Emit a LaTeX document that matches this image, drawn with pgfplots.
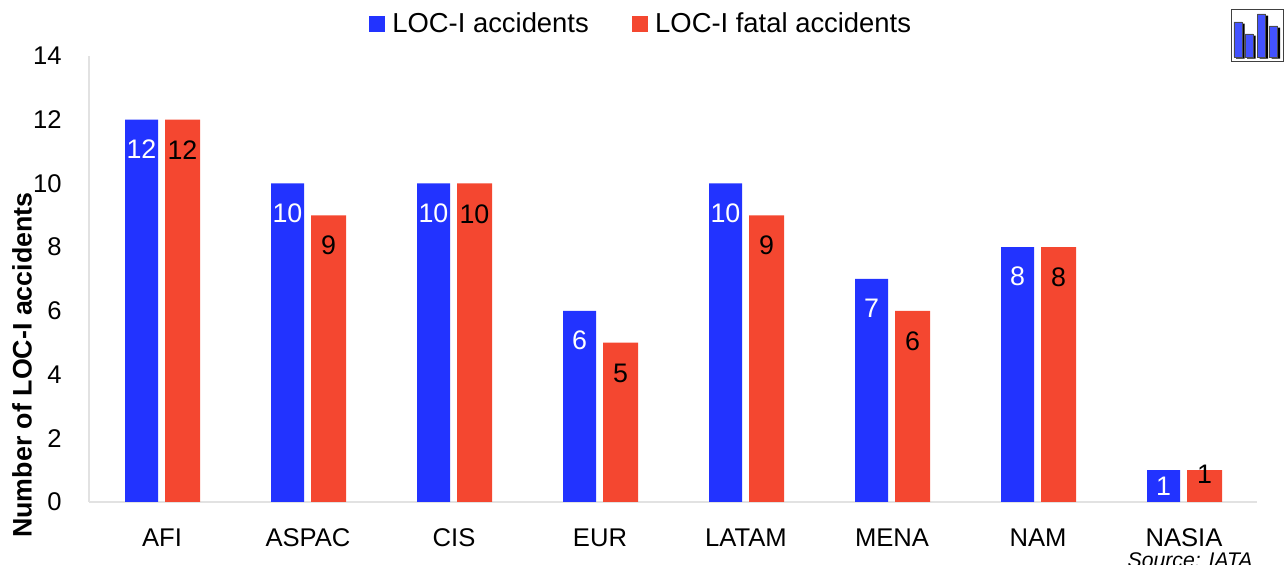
\documentclass[border=0pt]{standalone}
\usepackage{fontspec}
\setmainfont{Liberation Sans}
\usepackage{pgfplots}
\usepackage{pgfplotstable}
\pgfplotsset{compat=1.18}
\definecolor{cblue}{HTML}{2233FF}
\definecolor{cred}{HTML}{F44730}
\definecolor{cgrid}{HTML}{E2E2E2}
\pgfplotstableread{
x v dy
0 12 -14.7
1 10 -14.7
2 10 -14.7
3 6 -14.7
4 10 -14.7
5 7 -14.7
6 8 -14.7
7 1 -8.3
}\tblue
\pgfplotstableread{
x v dy
0 12 -15.2
1 9 -15.2
2 10 -15.2
3 5 -15.2
4 9 -15.2
5 6 -15.2
6 8 -15.2
7 1 -2.3
}\tred
\pgfplotstableread{
x v
7 35
18 23
30.5 43
42.5 31
}\ticon
\begin{document}
\begin{tikzpicture}[x=0.5pt,y=0.5pt]
\useasboundingbox (0,0) rectangle (1286,565);
\begin{axis}[
  at={(44.5pt,31.5pt)}, anchor=south west,
  scale only axis, width=584pt, height=223pt,
  xmin=-0.5, xmax=7.5, ymin=0, ymax=14,
  axis lines=left,
  axis line style={draw=cgrid, line width=1.1pt, -},
  tick style={draw=none},
  clip=false,
  xtick={0,...,7},
  xticklabels={AFI,ASPAC,CIS,EUR,LATAM,MENA,NAM,NASIA},
  ytick={0,2,...,14},
  /pgf/number format/assume math mode=true,
  tick label style={font=\fontsize{12.8}{15}\selectfont, text=black},
  yticklabel style={xshift=-8pt},
  xticklabel style={anchor=north, inner sep=0pt, text height=9.2pt, text depth=0pt, yshift=-10.8pt},
  ylabel={\fontsize{13.4}{15}\selectfont\bfseries Number of LOC-I accidents},
  ylabel style={at={(axis description cs:-0.0574,0.307)}, anchor=center},
  legend style={at={(0.2397,1.072)}, anchor=west, draw=none, fill=none,
    font=\fontsize{13.7}{15}\selectfont, inner sep=0pt, outer sep=0pt,
    /tikz/every even column/.append style={column sep=19.5pt}},
  legend columns=2,
  legend cell align=left,
  legend image code/.code={\fill[#1] (0pt,-4pt) rectangle (8.2pt,4pt); \path (9.7pt,0pt);},
  nodes near coords,
  point meta=explicit symbolic,
  visualization depends on={\thisrow{dy} \as \dy},
  nodes near coords style={anchor=center, yshift=\dy pt, font=\fontsize{13.4}{15}\selectfont},
]
\addplot+[ybar, bar width=16.5pt, bar shift=-10.25pt, fill=cblue, draw=none, mark=none,
  nodes near coords style={text=white, xshift=-10.25pt}]
  table[x=x, y=v, meta=v] {\tblue};
\addlegendentry{LOC-I accidents}
\addplot+[ybar, bar width=17.5pt, bar shift=10.25pt, fill=cred, draw=none, mark=none,
  nodes near coords style={text=black, xshift=10.25pt}]
  table[x=x, y=v, meta=v] {\tred};
\addlegendentry{LOC-I fatal accidents}
\end{axis}
\node[anchor=base east, font=\fontsize{10.6}{12}\selectfont\itshape, inner sep=0pt] at (1253,-3) {Source: IATA};
\begin{axis}[
  at={(615.5pt,251.5pt)}, anchor=south west,
  scale only axis, width=26pt, height=26pt,
  xmin=0, xmax=52, ymin=-5, ymax=47,
  xtick=\empty, ytick=\empty,
  axis line style={draw=black!75, line width=0.5pt},
]
\addplot[ybar, bar width=4.2pt, bar shift=0pt, fill=black, draw=none, xshift=1.2pt, yshift=-0.8pt] table[x=x,y=v] {\ticon};
\addplot[ybar, bar width=4.2pt, bar shift=0pt, fill=cblue!85!white, draw=black!70, line width=0.3pt] table[x=x,y=v] {\ticon};
\end{axis}
\end{tikzpicture}
\end{document}
